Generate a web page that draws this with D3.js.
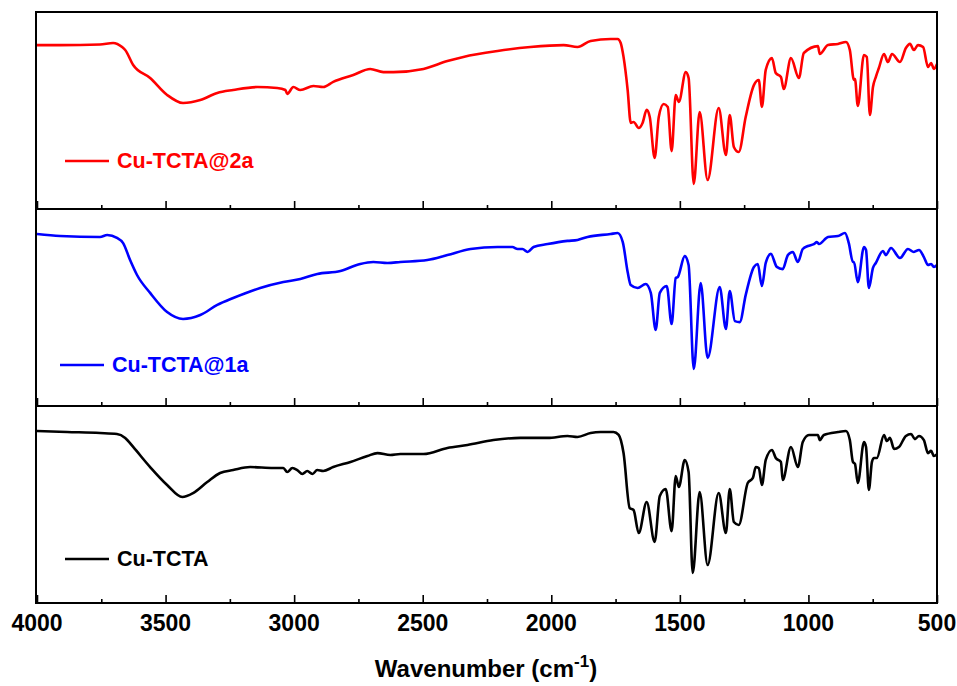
<!DOCTYPE html>
<html>
<head>
<meta charset="utf-8">
<script src="https://cdn.jsdelivr.net/npm/d3@7"></script>
<style>
  body { margin: 0; background: #ffffff; }
  svg { display: block; }
</style>
</head>
<body>
<svg id="chart" width="957" height="686"></svg>
<script>
// tick values of the wavenumber axis
var tickMajor = [4000, 3500, 3000, 2500, 2000, 1500, 1000, 500];
var tickMinor = [3750, 3250, 2750, 2250, 1750, 1250, 750];

// Cu-TCTA@2a (top, red)
var wn2a = [4000, 3910, 3755, 3704, 3669, 3657, 3626, 3560, 3494, 3432, 3365, 3299, 3237, 3143, 3066, 3034, 3027, 3003, 2976, 2925,
    2887, 2848, 2770, 2704, 2653, 2614, 2497, 2404, 2342, 2209, 2081, 1952, 1898, 1847, 1769, 1742, 1730, 1719, 1703, 1691,
    1680, 1660, 1645, 1629, 1617, 1598, 1582, 1563, 1547, 1532, 1516, 1504, 1477, 1466, 1446, 1423, 1392, 1349, 1321, 1306,
    1290, 1271, 1244, 1212, 1193, 1181, 1166, 1142, 1127, 1107, 1096, 1068, 1037, 1018, 963, 956, 924, 885, 854, 839,
    823, 819, 808, 784, 773, 761, 749, 738, 726, 706, 691, 675, 644, 621, 605, 590, 574, 554, 535, 523, 512, 500];
var t2a = [83.2, 83.2, 83.5, 84.3, 82.2, 80.7, 73.1, 66.5, 57.9, 53.8, 55.3, 58.9, 60.4, 61.9, 61.4, 60.4, 58.4, 61.9, 60.4, 62.4,
    61.9, 64.5, 68.0, 71.1, 69.5, 69.5, 71.1, 75.1, 77.2, 80.2, 82.2, 83.2, 82.2, 85.3, 86.3, 86.3, 84.3, 77.2, 60.4, 43.7,
    44.2, 41.1, 43.7, 50.3, 46.7, 25.9, 46.7, 53.3, 51.8, 29.4, 57.9, 54.3, 69.5, 66.5, 12.7, 49.2, 14.7, 51.3, 27.4, 47.7,
    31.5, 28.9, 46.7, 62.9, 65.5, 51.8, 70.6, 76.6, 69.0, 67.0, 60.9, 76.6, 66.5, 79.2, 82.7, 78.7, 83.2, 83.8, 84.8, 80.7,
    65.5, 66.0, 52.3, 78.2, 77.2, 47.7, 61.9, 67.0, 71.6, 78.7, 74.6, 78.7, 74.6, 81.7, 83.8, 80.7, 83.2, 82.2, 72.1, 74.1, 71.1, 73.6];

// Cu-TCTA@1a (middle, blue)
var wn1a = [4000, 3910, 3755, 3727, 3689, 3665, 3638, 3611, 3560, 3494, 3432, 3365, 3299, 3237, 3132, 3042, 2976, 2910, 2820, 2743,
    2692, 2637, 2587, 2482, 2404, 2314, 2209, 2151, 2131, 2112, 2092, 2069, 2014, 1937, 1898, 1859, 1769, 1742, 1722, 1703,
    1691, 1664, 1633, 1613, 1594, 1578, 1551, 1532, 1516, 1508, 1481, 1466, 1446, 1419, 1392, 1345, 1321, 1306, 1286, 1267,
    1244, 1212, 1197, 1181, 1166, 1146, 1123, 1100, 1080, 1061, 1041, 1022, 1002, 979, 967, 959, 924, 885, 858, 843,
    827, 823, 808, 784, 776, 765, 749, 738, 710, 699, 679, 644, 613, 590, 570, 551, 535, 523, 512, 500];
var t1a = [87.3, 86.3, 85.8, 86.8, 85.3, 82.7, 74.1, 66.5, 57.4, 47.7, 44.2, 46.2, 51.3, 54.8, 59.9, 62.9, 64.5, 67.0, 68.5, 72.1,
    73.1, 72.6, 73.1, 74.1, 76.6, 79.7, 80.7, 80.7, 79.7, 79.7, 78.2, 80.7, 82.2, 83.8, 84.3, 85.8, 87.3, 87.8, 83.2, 68.0,
    61.4, 59.9, 61.9, 57.4, 38.6, 57.4, 60.9, 41.6, 65.0, 65.5, 76.1, 71.6, 18.8, 62.4, 24.4, 60.4, 39.1, 58.4, 43.1, 42.6,
    56.3, 70.6, 72.1, 60.9, 72.6, 77.2, 70.6, 69.5, 76.6, 78.2, 73.1, 79.7, 81.2, 82.2, 83.2, 82.2, 85.8, 86.3, 87.8, 82.7,
    73.1, 73.1, 62.9, 80.7, 79.2, 59.9, 70.1, 72.6, 78.7, 76.6, 80.2, 75.1, 79.7, 78.2, 79.2, 75.6, 71.6, 72.1, 70.6, 71.6];

// Cu-TCTA (bottom, black)
var wnCu = [4000, 3883, 3755, 3689, 3657, 3626, 3560, 3494, 3435, 3393, 3338, 3288, 3237, 3171, 3081, 3042, 3027, 3007, 2988, 2968,
    2949, 2929, 2910, 2887, 2848, 2781, 2715, 2676, 2626, 2587, 2497, 2404, 2326, 2225, 2120, 2014, 1937, 1898, 1847, 1808,
    1758, 1738, 1719, 1695, 1680, 1660, 1629, 1598, 1578, 1555, 1532, 1516, 1504, 1481, 1466, 1450, 1423, 1392, 1349, 1321,
    1306, 1290, 1271, 1236, 1216, 1205, 1193, 1181, 1166, 1142, 1127, 1107, 1100, 1068, 1041, 1022, 998, 963, 956, 940,
    885, 854, 839, 827, 819, 808, 784, 776, 765, 753, 745, 734, 706, 695, 683, 667, 648, 621, 601, 586,
    570, 551, 535, 523, 512, 500];
var tCu = [87.3, 86.8, 86.3, 85.8, 83.8, 79.2, 69.0, 59.9, 53.8, 55.8, 61.4, 66.0, 67.5, 69.0, 68.5, 68.5, 66.5, 68.5, 67.5, 65.5,
    67.0, 65.5, 67.5, 67.0, 69.0, 71.6, 74.6, 76.1, 75.1, 75.6, 75.6, 78.7, 80.2, 82.7, 83.8, 83.8, 84.8, 84.3, 86.3, 86.8,
    86.8, 85.3, 76.1, 48.2, 47.2, 35.5, 51.3, 31.0, 54.3, 57.9, 36.5, 64.5, 58.9, 72.6, 66.5, 15.2, 56.3, 19.3, 55.8, 35.5,
    57.9, 41.1, 39.6, 60.9, 63.5, 69.0, 68.5, 59.9, 72.6, 77.7, 73.6, 71.6, 62.4, 79.2, 69.0, 81.7, 85.3, 85.3, 82.7, 85.3,
    86.8, 87.3, 82.7, 71.6, 70.6, 60.9, 81.7, 79.2, 57.4, 71.6, 73.6, 73.6, 85.3, 82.2, 83.8, 78.2, 79.2, 84.8, 85.8, 83.2,
    84.8, 82.7, 76.1, 77.2, 74.6, 75.6];

var svg = d3.select("#chart");
var fontFam = "'Liberation Sans', Arial, sans-serif";

var plotLeft = 37, plotRight = 937, plotTop = 12, panelH = 197;

var x = d3.scaleLinear().domain([4000, 500]).range([plotLeft, plotRight]);

var panels = [
    { name: "Cu-TCTA@2a", color: "#ff0000", wn: wn2a, t: t2a, legendX: 65, legendY: 161 },
    { name: "Cu-TCTA@1a", color: "#0000ff", wn: wn1a, t: t1a, legendX: 60, legendY: 365 },
    { name: "Cu-TCTA", color: "#000000", wn: wnCu, t: tCu, legendX: 65, legendY: 559 }
];

panels.forEach(function(p, i) {
    var y0 = plotTop + i * panelH;
    var y = d3.scaleLinear().domain([0, 100]).range([y0 + panelH, y0]);

    var pts = p.wn.map(function(w, k) { return [w, p.t[k]]; });
    var line = d3.line()
        .x(function(d) { return x(d[0]); })
        .y(function(d) { return y(d[1]); })
        .curve(d3.curveMonotoneX);

    svg.append("path")
        .datum(pts)
        .attr("d", line)
        .attr("fill", "none")
        .attr("stroke", p.color)
        .attr("stroke-width", 2.6)
        .attr("stroke-linejoin", "round");

    // ticks on the lower edge of each panel, pointing inward
    var gMaj = svg.append("g")
        .attr("transform", "translate(0," + (y0 + panelH) + ")")
        .call(d3.axisBottom(x).tickValues(tickMajor).tickSize(-8).tickFormat(""));
    var gMin = svg.append("g")
        .attr("transform", "translate(0," + (y0 + panelH) + ")")
        .call(d3.axisBottom(x).tickValues(tickMinor).tickSize(-4).tickFormat(""));
    [gMaj, gMin].forEach(function(g) {
        g.select(".domain").remove();
        g.selectAll("line").attr("stroke", "#000").attr("stroke-width", 1.6);
    });

    // legend
    svg.append("line")
        .attr("x1", p.legendX)
        .attr("x2", p.legendX + 44)
        .attr("y1", p.legendY)
        .attr("y2", p.legendY)
        .attr("stroke", p.color)
        .attr("stroke-width", 2.6);
    svg.append("text")
        .attr("x", p.legendX + 52)
        .attr("y", p.legendY + 7)
        .style("font-family", fontFam)
        .style("font-weight", "bold")
        .style("font-size", "21.5px")
        .style("fill", p.color)
        .text(p.name);

    // panel frame
    svg.append("rect")
        .attr("x", plotLeft - 1)
        .attr("y", y0)
        .attr("width", plotRight - plotLeft + 1)
        .attr("height", panelH)
        .attr("fill", "none")
        .attr("stroke", "#000")
        .attr("stroke-width", 2);
});

// tick labels under the bottom panel
var bottomY = plotTop + 3 * panelH;
svg.append("g")
    .selectAll("text")
    .data(tickMajor)
    .enter()
    .append("text")
    .attr("x", function(d) { return x(d); })
    .attr("y", bottomY + 28)
    .attr("text-anchor", "middle")
    .style("font-family", fontFam)
    .style("font-weight", "bold")
    .style("font-size", "23px")
    .style("fill", "#000")
    .text(function(d) { return d; });

var title = svg.append("text")
    .attr("x", 486)
    .attr("y", 677)
    .attr("text-anchor", "middle")
    .style("font-family", fontFam)
    .style("font-weight", "bold")
    .style("font-size", "24px")
    .style("fill", "#000");
title.append("tspan").text("Wavenumber (cm");
title.append("tspan").attr("dy", -10).style("font-size", "17px").text("-1");
title.append("tspan").attr("dy", 10).text(")");
</script>
</body>
</html>
